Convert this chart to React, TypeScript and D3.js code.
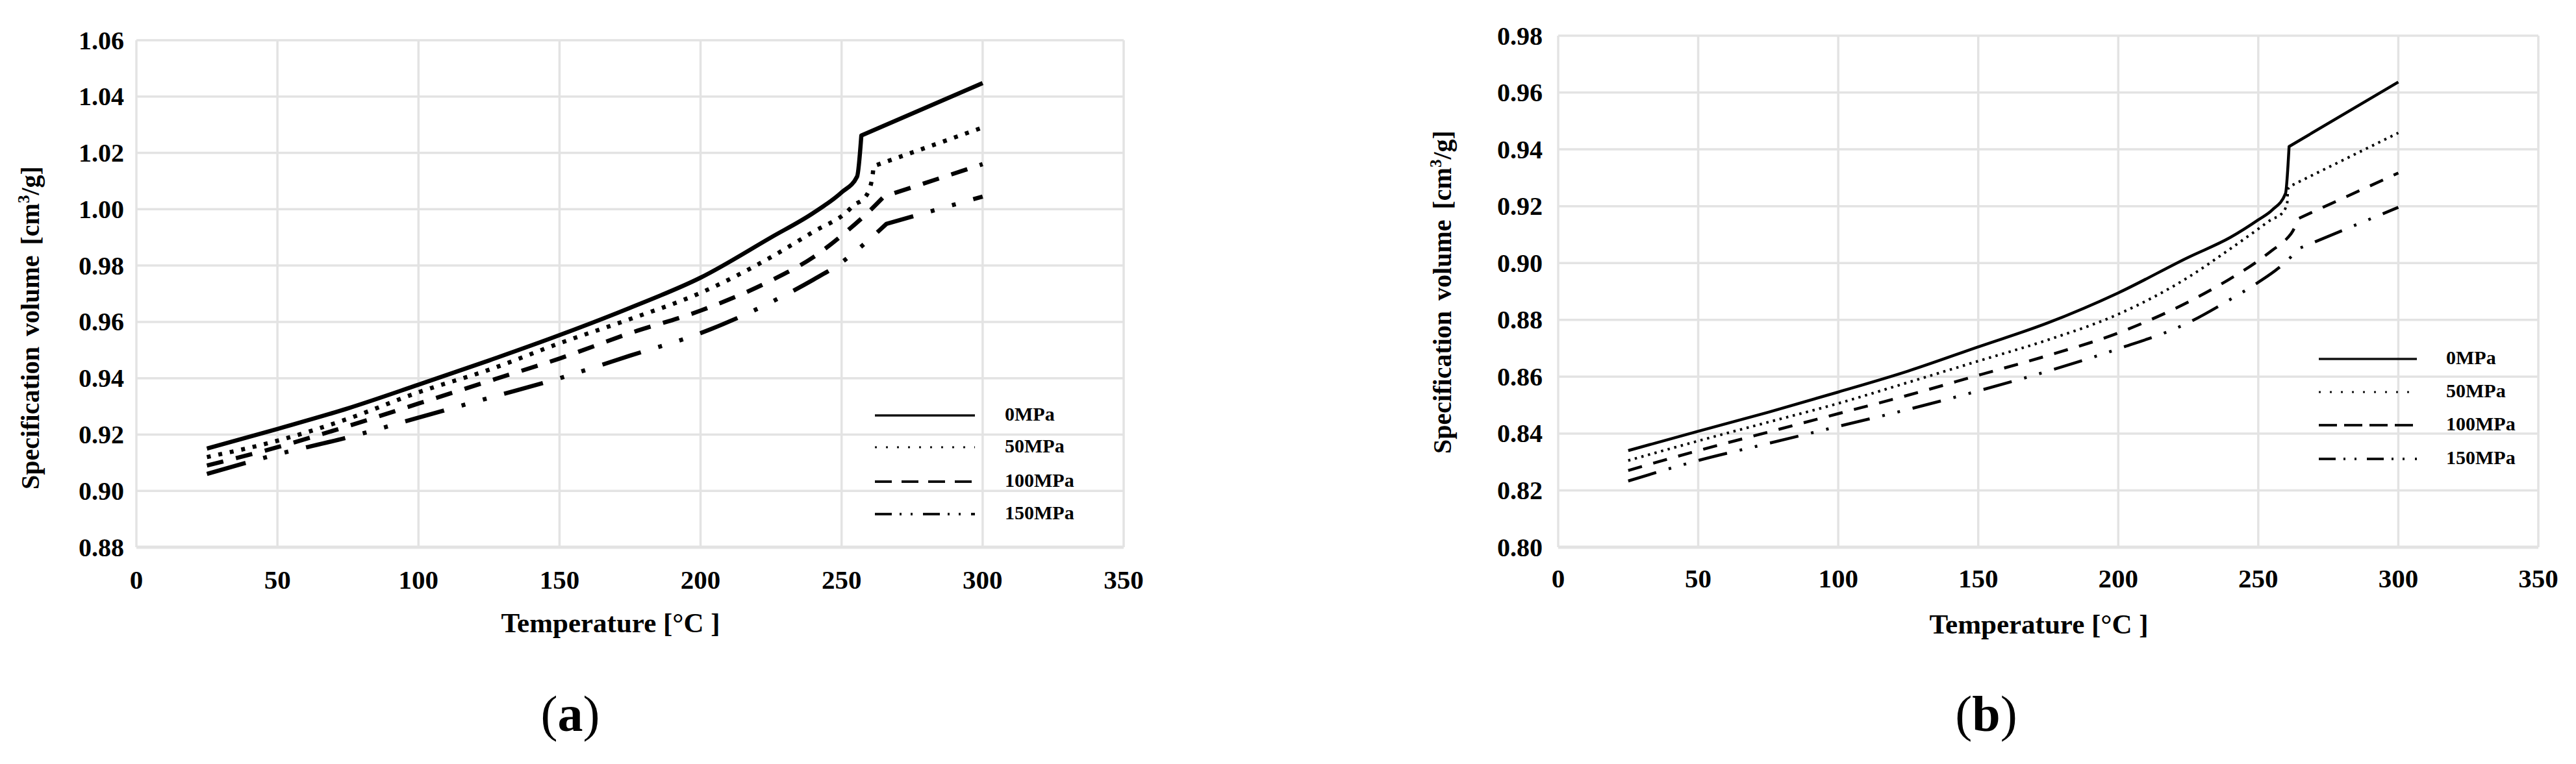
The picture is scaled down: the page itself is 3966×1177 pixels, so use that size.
import React from 'react';
import * as d3 from 'd3';

// tick labels and legend entries
const pressureLabels = ['0MPa', '50MPa', '100MPa', '150MPa'];
const tempTicks = [0, 50, 100, 150, 200, 250, 300, 350];
const volTicksA = [0.88, 0.90, 0.92, 0.94, 0.96, 0.98, 1.00, 1.02, 1.04, 1.06];
const volTicksB = [0.80, 0.82, 0.84, 0.86, 0.88, 0.90, 0.92, 0.94, 0.96, 0.98];

// panel (a)
const tempA0 = [25, 50, 75, 100, 125, 150, 175, 200, 225, 240, 250, 255.5, 257, 300];
const volA0 = [0.915, 0.922, 0.9293, 0.9377, 0.9463, 0.9553, 0.965, 0.9757, 0.990, 0.9987, 1.006, 1.0116, 1.0262, 1.0448];
const tempA50 = [25, 50, 75, 100, 125, 150, 175, 200, 225, 240, 251.8, 254.4, 258.3, 260.9, 261.3, 300];
const volA50 = [0.912, 0.9178, 0.9256, 0.935, 0.943, 0.9524, 0.961, 0.9703, 0.983, 0.992, 0.999, 1.0015, 1.0042, 1.0112, 1.0153, 1.029];
const tempA100 = [25, 50, 75, 100, 125, 150, 175, 200, 225, 240, 251.4, 259.5, 265, 300];
const volA100 = [0.909, 0.9155, 0.923, 0.931, 0.939, 0.947, 0.956, 0.964, 0.9747, 0.983, 0.9918, 0.999, 1.0045, 1.016];
const tempA150 = [25, 50, 75, 100, 125, 150, 175, 200, 225, 240, 248.4, 260.1, 265.9, 300];
const volA150 = [0.906, 0.913, 0.919, 0.926, 0.933, 0.940, 0.948, 0.956, 0.967, 0.975, 0.980, 0.9895, 0.9948, 1.0045];

// panel (b)
const tempB0 = [25, 50, 75, 100, 125, 150, 175, 200, 225, 240, 250, 255, 259.7, 261, 300];
const volB0 = [0.834, 0.8408, 0.8475, 0.8546, 0.862, 0.8705, 0.879, 0.8895, 0.902, 0.909, 0.9152, 0.9187, 0.9244, 0.941, 0.9637];
const tempB50 = [25, 50, 75, 100, 125, 150, 175, 200, 225, 240, 250, 255, 258, 260.3, 260.6, 262.3, 300];
const volB50 = [0.8305, 0.8374, 0.844, 0.8506, 0.858, 0.8655, 0.873, 0.882, 0.895, 0.905, 0.912, 0.9155, 0.917, 0.9209, 0.926, 0.9275, 0.9458];
const tempB100 = [25, 50, 75, 100, 125, 150, 175, 200, 225, 240, 250, 255, 260.3, 262.3, 264.2, 300];
const volB100 = [0.827, 0.834, 0.8405, 0.847, 0.8535, 0.8605, 0.8675, 0.8754, 0.8863, 0.8945, 0.9008, 0.9045, 0.9087, 0.9112, 0.9156, 0.9317];
const tempB150 = [25, 50, 75, 100, 125, 150, 175, 200, 225, 240, 250, 257.2, 262, 264.2, 300];
const volB150 = [0.8233, 0.8305, 0.8365, 0.8425, 0.8485, 0.855, 0.862, 0.8698, 0.879, 0.8872, 0.8932, 0.8982, 0.9025, 0.905, 0.9196];

const FONT = '"Liberation Serif", "Times New Roman", serif';
const GRID = '#e3e3e3';

const styleA = [
  { w: 6.5, dash: undefined },
  { w: 6.5, dash: '6 12' },
  { w: 6.5, dash: '26 20' },
  { w: 6.5, dash: '62 28 6 28 6 28' },
];
const styleB = [
  { w: 4.5, dash: undefined },
  { w: 4, dash: '3.5 7' },
  { w: 4.5, dash: '22 18' },
  { w: 4.5, dash: '45 20 4 20 4 20' },
];
const legendStyleA = [
  { w: 3.5, dash: undefined },
  { w: 3, dash: '3 14' },
  { w: 4, dash: '26 15' },
  { w: 4, dash: '26 12 3 14 3 16' },
];
const legendStyleB = [
  { w: 3.5, dash: undefined },
  { w: 3, dash: '3 14' },
  { w: 4, dash: '28 11' },
  { w: 4, dash: '26 12 3 14 3 16' },
];

class Panel extends React.Component<any> {
  render() {
    const p = this.props;
    const f = p.frame;

    let x = d3.scaleLinear().domain([0, 350]).range([f.left, f.right]);
    let y = d3.scaleLinear()
      .domain([p.yTicks[0], p.yTicks[p.yTicks.length - 1]])
      .range([f.bottom, f.top]);
    let smooth = d3.line<[number, number]>()
      .x(d => x(d[0]))
      .y(d => y(d[1]))
      .curve(d3.curveMonotoneX);
    let fmt = d3.format('.2f');

    // smooth up to the transition, then a straight run to the last point
    let pathFor = (temps, vols) => {
      let pts = d3.zip(temps, vols) as [number, number][];
      let last = pts[pts.length - 1];
      return smooth(pts.slice(0, -1)) + `L${x(last[0])},${y(last[1])}`;
    };

    let grid = [];
    p.yTicks.forEach((t, i) => {
      grid.push(<line key={'h' + i} x1={f.left} x2={f.right} y1={y(t)} y2={y(t)}
        stroke={GRID} strokeWidth={i === 0 ? 5 : 3.5} />);
    });
    tempTicks.forEach((t, i) => {
      grid.push(<line key={'v' + i} x1={x(t)} x2={x(t)} y1={f.top} y2={f.bottom}
        stroke={GRID} strokeWidth={3.5} />);
    });

    let yLabels = p.yTicks.map((t, i) => (
      <text key={i} x={p.yLabelRight} y={y(t)} textAnchor="end" dominantBaseline="central"
        fontSize={40} fontWeight="bold">{fmt(t)}</text>
    ));
    let xLabels = tempTicks.map((t, i) => (
      <text key={i} x={x(t)} y={p.xLabelY} textAnchor="middle" fontSize={41} fontWeight="bold">{t}</text>
    ));

    let curves = p.series.map((s, i) => (
      <path key={i} d={pathFor(s.temps, s.vols)} fill="none"
        stroke="#000" strokeWidth={p.styles[i].w} strokeDasharray={p.styles[i].dash}
        strokeLinejoin="round" />
    ));

    let lg = p.legend;
    let legend = pressureLabels.map((name, i) => (
      <g key={i}>
        <line x1={lg.x1} x2={lg.x2} y1={lg.rows[i] + 3} y2={lg.rows[i] + 3} stroke="#111"
          strokeWidth={p.legendStyles[i].w} strokeDasharray={p.legendStyles[i].dash} />
        <text x={lg.textX} y={lg.rows[i]} dominantBaseline="central" fontSize={30} fontWeight="bold">{name}</text>
      </g>
    ));

    return (
      <g fontFamily={FONT} fill="#000">
        {grid}
        {curves}
        {legend}
        {yLabels}
        {xLabels}
        <text x={p.xTitle.x} y={p.xTitle.y} textAnchor="middle" fontSize={43} fontWeight="bold">Temperature [°C ]</text>
        <text transform={`translate(${p.yTitle.x},${p.yTitle.y}) rotate(-90)`} textAnchor="middle"
          fontSize={40} fontWeight="bold" wordSpacing={6}>
          Specification volume [cm<tspan dy={-15} fontSize={25}>3</tspan><tspan dy={15}>/g]</tspan>
        </text>
        <text x={p.caption.x} y={p.caption.y} textAnchor="middle" fontSize={78}>
          (<tspan fontWeight="bold">{p.caption.text}</tspan>)
        </text>
      </g>
    );
  }
}

export default class App extends React.Component {
  render() {
    const seriesA = [
      { temps: tempA0, vols: volA0 },
      { temps: tempA50, vols: volA50 },
      { temps: tempA100, vols: volA100 },
      { temps: tempA150, vols: volA150 },
    ];
    const seriesB = [
      { temps: tempB0, vols: volB0 },
      { temps: tempB50, vols: volB50 },
      { temps: tempB100, vols: volB100 },
      { temps: tempB150, vols: volB150 },
    ];

    return (
      <svg width={3966} height={1177} style={{ position: 'absolute', left: 0, top: 0, background: '#fff' }}>
        <Panel
          frame={{ left: 210, right: 1730, top: 62, bottom: 843 }}
          yTicks={volTicksA}
          series={seriesA}
          styles={styleA}
          legendStyles={legendStyleA}
          yLabelRight={191}
          xLabelY={907}
          xTitle={{ x: 940, y: 974 }}
          yTitle={{ x: 60, y: 505 }}
          caption={{ x: 878, y: 1126, text: 'a' }}
          legend={{ x1: 1347, x2: 1501, textX: 1547, rows: [637, 686, 739, 789] }}
        />
        <Panel
          frame={{ left: 2399, right: 3908, top: 55, bottom: 843 }}
          yTicks={volTicksB}
          series={seriesB}
          styles={styleB}
          legendStyles={legendStyleB}
          yLabelRight={2375}
          xLabelY={905}
          xTitle={{ x: 3139, y: 976 }}
          yTitle={{ x: 2234, y: 450 }}
          caption={{ x: 3058, y: 1126, text: 'b' }}
          legend={{ x1: 3570, x2: 3721, textX: 3766, rows: [550, 601, 652, 704] }}
        />
      </svg>
    );
  }
}
